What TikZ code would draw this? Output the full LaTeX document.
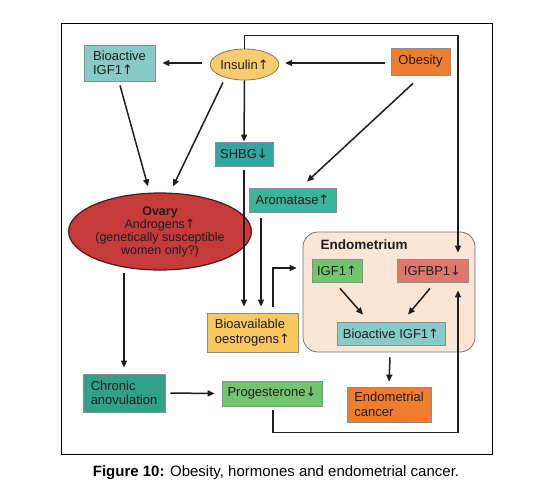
\documentclass[tikz,border=0pt]{standalone}
\usepackage{fontspec}
\setmainfont{Liberation Sans}
\newfontfamily\dvfont{DejaVu Sans}
\newcommand\arrUp{{\dvfont\char"2191}}
\newcommand\arrDn{{\dvfont\char"2193}}
\usetikzlibrary{calc,arrows.meta,shapes.geometric}
\definecolor{ink}{HTML}{1E1E1E}
\definecolor{tealL}{HTML}{86CBC7}
\definecolor{tealM}{HTML}{2FA6A0}
\definecolor{tealG}{HTML}{3DB39A}
\definecolor{tealD}{HTML}{2FA287}
\definecolor{insY}{HTML}{F5CC70}
\definecolor{orgC}{HTML}{EF7D2E}
\definecolor{redO}{HTML}{C63A3A}
\definecolor{grnL}{HTML}{72C56E}
\definecolor{salm}{HTML}{DF786C}
\definecolor{yelB}{HTML}{F7C95E}
\definecolor{endoF}{HTML}{FBE6D6}
\tikzset{
  box/.style={draw=black!45, line width=0.8pt, rectangle, inner sep=0pt, text=ink,
    font=\fontsize{13}{14.5}\selectfont},
  conn/.style={draw=ink, line width=1.5pt, -{Triangle[length=7pt,width=6pt]}},
}
\begin{document}
\begin{tikzpicture}[x=1pt,y=-1pt]
\useasboundingbox (0,0) rectangle (553,499);
\fill[white] (0,0) rectangle (553,499);
\draw[black, line width=1pt] (61,23) rectangle (492,454);
% endometrium container
\node[draw=black!55, line width=0.8pt, fill=endoF, rounded corners=15pt, minimum width=172pt, minimum height=120pt, inner sep=0pt] (endo) at (389,292) {};
\node[anchor=west, font=\fontsize{13.5}{15}\selectfont\bfseries, text=ink] (endolab) at (317,245) {Endometrium};
% nodes
\node[box, fill=tealL, minimum width=71pt, minimum height=36pt, align=left] (bioigf) at (119.5,63) {Bioactive\\IGF1\arrUp};
\node[box, ellipse, draw=black!40!insY, fill=insY, minimum width=63pt, minimum height=31pt] (insulin) at (244.5,64.5) {Insulin\arrUp};
\node[box, fill=orgC, minimum width=59pt, minimum height=27pt] (obesity) at (420.5,61.5) {Obesity};
\node[box, fill=tealM, minimum width=58pt, minimum height=24pt] (shbg) at (244,154) {SHBG\arrDn};
\node[box, ellipse, draw=black!60!redO, line width=1.2pt, fill=redO, minimum width=154pt, minimum height=77pt, align=center, font=\fontsize{12.5}{13}\selectfont] (ovary) at (160,231.5) {\textbf{Ovary}\\Androgens\arrUp\\(genetically susceptible\\women only?)};
\node[box, fill=tealG, minimum width=87pt, minimum height=24pt] (arom) at (292.5,200) {Aromatase\arrUp};
\node[box, fill=grnL, minimum width=50pt, minimum height=23pt] (igf1) at (337,270.5) {IGF1\arrUp};
\node[box, fill=salm, minimum width=71pt, minimum height=23pt] (igfbp1) at (432.5,270.5) {IGFBP1\arrDn};
\node[box, fill=yelB, minimum width=91pt, minimum height=39pt, align=left] (bioav) at (252.5,332.5) {Bioavailable\\oestrogens\arrUp};
\node[box, fill=tealL, minimum width=108pt, minimum height=23pt] (bioigf2) at (391,333.5) {Bioactive IGF1\arrUp};
\node[box, fill=orgC, minimum width=84pt, minimum height=35pt, align=left] (cancer) at (389,404.5) {Endometrial\\cancer};
\node[box, fill=tealD, minimum width=82pt, minimum height=38pt, align=left] (chronic) at (124,393) {Chronic\\anovulation};
\node[box, fill=grnL, minimum width=100pt, minimum height=25pt] (prog) at (272,393.5) {Progesterone\arrDn};
% connectors
\draw[conn] ($(insulin.west)+(-8,-1.5)$) -- ($(bioigf.east)+(7,0)$);
\draw[conn] ($(obesity.west)+(-6,1.5)$) -- ($(insulin.east)+(6,-1.5)$);
\draw[conn] (insulin.south) -- (shbg.north);
\draw[conn] ($(bioigf.south)+(0.5,4)$) -- ($(ovary.north)+(-12,-6)$);
\draw[conn] ($(insulin.south)+(-21.5,2)$) -- ($(ovary.north)+(13,-6)$);
\draw[conn] ($(obesity.south)+(-7.5,8)$) -- ($(arom.north)+(14.5,-6)$);
\draw[conn] ($(shbg.south)+(0,4)$) -- ($(bioav.north)+(-8.5,-6)$);
\draw[conn] ($(arom.south)+(-31.5,6)$) -- ($(bioav.north)+(8.5,-6)$);
\draw[conn] ($(bioav.north)+(20.5,-6)$) |- ($(endo.west |- igf1.west)+(-6,-2.5)$);
\draw[conn] (insulin.north) -- ++(0,-13) -| ($(igfbp1.north)+(25.5,-6)$);
\draw[conn] ($(prog.south)+(1,4)$) -- ($(prog.south)+(1,26)$) -| ($(igfbp1.south)+(25.5,8)$);
\draw[conn] ($(igf1.south)+(3,6)$) -- ($(bioigf2.north)+(-28,-7)$);
\draw[conn] ($(igfbp1.south)+(-2.5,6)$) -- ($(bioigf2.north)+(17,-7)$);
\draw[conn] ($(bioigf2.south)+(-1,12)$) -- ($(cancer.north)+(0,-5)$);
\draw[conn] ($(ovary.south)+(-36,2)$) -- ($(chronic.north)+(0,-6)$);
\draw[conn] ($(chronic.east)+(5,0)$) -- ($(prog.west)+(-7,0)$);
% caption
\node[font=\fontsize{15}{17}\selectfont, text=black] (caption) at (276,473) {\textbf{Figure 10:} Obesity, hormones and endometrial cancer.};
\end{tikzpicture}
\end{document}
